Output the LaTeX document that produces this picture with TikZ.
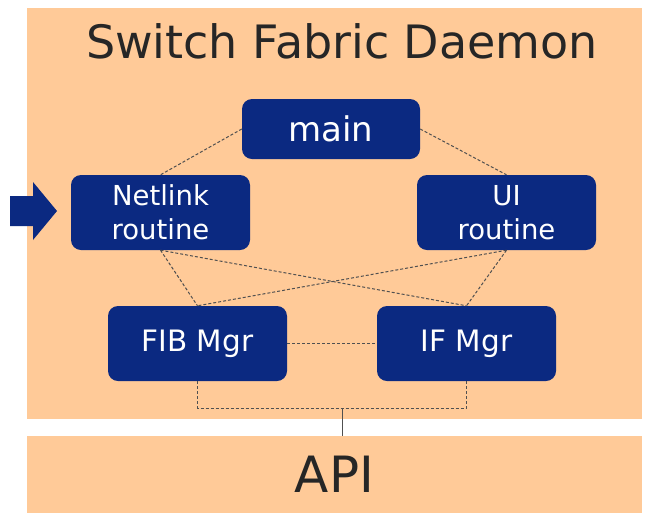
\documentclass[tikz,border=0pt]{standalone}
\usepackage{fontspec}
\setmainfont{DejaVu Sans}
\definecolor{peach}{RGB}{255,202,152}
\definecolor{navy}{RGB}{11,41,129}
\definecolor{ink}{RGB}{38,38,38}
\definecolor{dashgrey}{RGB}{80,80,80}
\begin{document}
\begin{tikzpicture}[x=1pt,y=-1pt,
  box/.style={fill=navy, rounded corners=10pt, text=white, inner sep=0pt,
    minimum width=179pt, minimum height=75pt, align=center},
  dline/.style={draw=dashgrey, line width=1pt, dash pattern=on 3pt off 2pt},
  sline/.style={draw=dashgrey, line width=1pt}]
\useasboundingbox (0,0) rectangle (648,515);
\fill[peach] (27,8) rectangle (642,419);
\node[text=ink, inner sep=0pt, font=\fontsize{46}{50}\selectfont] (title) at (342,41) {Switch Fabric Daemon};
\node[fill=peach, inner sep=0pt, minimum width=615pt, minimum height=77pt,
  text=ink, font=\fontsize{50}{54}\selectfont] (api) at (334.5,474.5) {API};
\node[box, minimum width=178pt, minimum height=60pt, font=\fontsize{34}{38}\selectfont] (main) at (331,129) {main};
\node[box, font=\fontsize{27.5}{34}\selectfont] (net) at (160.5,212.5) {Netlink\\routine};
\node[box, font=\fontsize{27.5}{34}\selectfont] (ui) at (506.5,212.5) {UI\\routine};
\node[box, font=\fontsize{29.5}{34}\selectfont] (fib) at (197.5,343.5) {FIB Mgr};
\node[box, font=\fontsize{29.5}{34}\selectfont] (if) at (466.5,343.5) {IF Mgr};
\coordinate (j) at (342,408);
\draw[dline] (main.west) -- (net.north);
\draw[dline] (main.east) -- (ui.north);
\draw[dline] (net.south) -- (fib.north);
\draw[dline] (net.south) -- (if.north);
\draw[dline] (ui.south) -- (fib.north);
\draw[dline] (ui.south) -- (if.north);
\draw[dline] (fib.east) -- (if.west);
\draw[dline] (fib.south) -- (fib.south |- j) -- (if.south |- j) -- (if.south);
\draw[sline] (j) -- (api.north -| j);
\fill[navy] (10,196) -- (33,196) -- (33,182) -- (57,211) -- (33,240) -- (33,226) -- (10,226) -- cycle;
\end{tikzpicture}
\end{document}
